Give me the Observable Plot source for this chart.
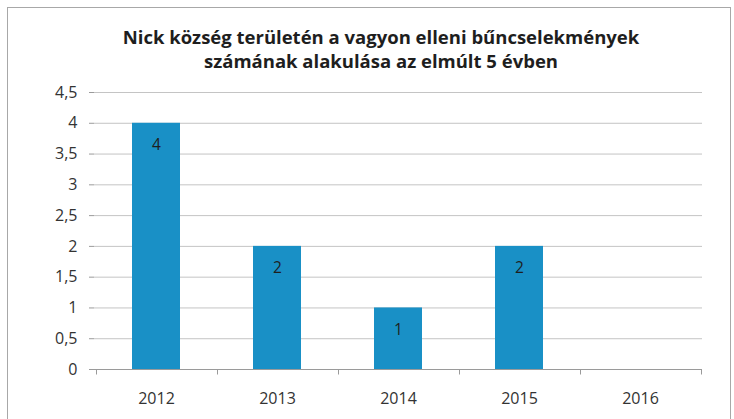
<!DOCTYPE html>
<html>
<head>
<meta charset="utf-8">
<script src="https://cdn.jsdelivr.net/npm/d3@7"></script>
<script src="https://cdn.jsdelivr.net/npm/@observablehq/plot@0.6"></script>
<style>
  html, body { margin: 0; padding: 0; background: #fff; }
  #wrap { position: relative; width: 734px; height: 419px; overflow: hidden; background: #fff; }
  #border { position: absolute; left: 7px; top: 7px; width: 724px; height: 430px; border: 1px solid #a8a8a8; box-sizing: border-box; }
  #title { position: absolute; left: 0; top: 25px; width: 762px; text-align: center;
    font-family: "Open Sans", Lato, sans-serif; font-weight: bold; font-size: 18.5px; line-height: 24px; color: #1e1e1e; }
  #chart { position: absolute; left: 0; top: 80px; }
  #chart svg { font-family: "Open Sans", Lato, sans-serif; }
</style>
</head>
<body>
<div id="wrap">
  <div id="border"></div>
  <div id="title">Nick község területén a vagyon elleni bűncselekmények<br>számának alakulása az elmúlt 5 évben</div>
  <div id="chart"></div>
</div>
<script>
const years = ["2012", "2013", "2014", "2015", "2016"];
const counts = [4, 2, 1, 2, 0];
const yTicks = [0, 0.5, 1, 1.5, 2, 2.5, 3, 3.5, 4, 4.5];

const data = years.map((year, i) => ({year, count: counts[i]}));
const fmt = d => String(d).replace(".", ",");

const boundaryTicks = (index, scales) => {
  const x = scales.x, y = scales.y;
  const step = x.step(), bw = x.bandwidth();
  const y0 = Math.round(y(0)) + 0.5;
  const bounds = years.map(d => x(d) + bw / 2 - step / 2)
    .concat([x(years[years.length - 1]) + bw / 2 + step / 2]);
  const g = d3.create("svg:g").attr("stroke", "#9a9a9a").attr("stroke-width", 1);
  g.selectAll("line").data(bounds).join("line")
    .attr("x1", d => Math.round(d) + 0.5).attr("x2", d => Math.round(d) + 0.5)
    .attr("y1", y0).attr("y2", y0 + 5);
  return g.node();
};

const chart = Plot.plot({
  width: 734,
  height: 339,
  marginLeft: 94,
  marginRight: 32,
  marginTop: 12,
  marginBottom: 50,
  style: {fontSize: "16px", color: "#333", background: "transparent"},
  x: {domain: years, paddingInner: 0.6, paddingOuter: 0.3, label: null},
  y: {domain: [0, 4.5], label: null},
  marks: [
    Plot.gridY(yTicks, {stroke: "#c4c4c4", strokeOpacity: 1}),
    Plot.barY(data, {x: "year", y: "count", fill: "#1990c6"}),
    Plot.ruleX([years[0]], {x: () => null, stroke: "#9a9a9a"}),
    Plot.axisY(yTicks, {tickFormat: fmt, tickSize: 5, tickPadding: 12, stroke: "#9a9a9a", fill: "#333", fontSize: 16}),
    Plot.axisX({tickSize: 0, tickPadding: 23, fill: "#333", fontSize: 16}),
    Plot.ruleY([0], {stroke: "#9a9a9a"}),
    boundaryTicks,
    Plot.text(data.filter(d => d.count > 0), {x: "year", y: "count", text: d => String(d.count), dy: 22, fill: "#1e1e1e", fontSize: 15.5})
  ]
});
document.getElementById("chart").appendChild(chart);
</script>
</body>
</html>
